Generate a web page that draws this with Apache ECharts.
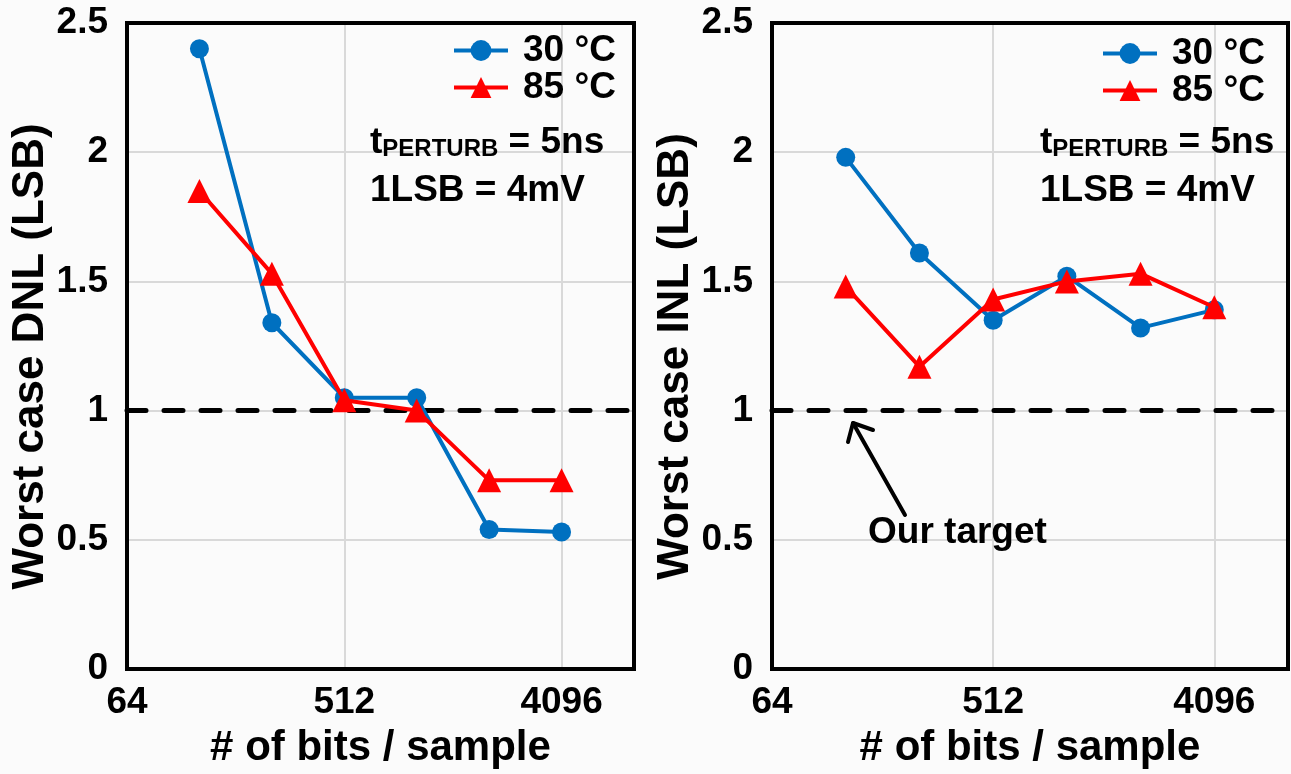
<!DOCTYPE html>
<html>
<head>
<meta charset="utf-8">
<script src="https://cdn.jsdelivr.net/npm/echarts@6/dist/echarts.min.js"></script>
<style>
html,body{margin:0;padding:0;background:#fbfbfb;}
#c{width:1291px;height:774px;}
</style>
</head>
<body>
<div id="c"></div>
<script>
// ---- data ----
const bits = [128, 256, 512, 1024, 2048, 4096];
const xTickLabels = [64, 512, 4096];
const dnl30 = [2.40, 1.34, 1.05, 1.05, 0.54, 0.53];
const dnl85 = [1.85, 1.53, 1.04, 1.00, 0.73, 0.73];
const inl30 = [1.98, 1.61, 1.35, 1.52, 1.32, 1.39];
const inl85 = [1.48, 1.17, 1.43, 1.50, 1.53, 1.40];
const seriesNames = ['30 °C', '85 °C'];
const targetLevel = 1;

const FONT = '"Liberation Sans", Arial, sans-serif';
const BLUE = '#0070C0', RED = '#FF0000';

const pts = arr => bits.map((b, i) => [Math.log2(b), arr[i]]);

function xAxis(gi) {
  return {
    gridIndex: gi, type: 'value', min: 6, max: 13, interval: 3,
    name: '# of bits / sample', nameLocation: 'middle', nameGap: 58,
    nameTextStyle: {fontFamily: FONT, fontWeight: 'bold', fontSize: 42, color: '#000'},
    axisLine: {show: false}, axisTick: {show: false},
    axisLabel: {
      fontFamily: FONT, fontWeight: 'bold', fontSize: 37, color: '#000', margin: 15,
      formatter: v => { const n = Math.pow(2, v); return xTickLabels.includes(n) ? String(n) : ''; }
    },
    splitLine: {show: true, lineStyle: {color: '#d9d9d9', width: 2}}
  };
}
function yAxis(gi, name) {
  return {
    gridIndex: gi, type: 'value', min: 0, max: 2.5, interval: 0.5,
    name: name, nameLocation: 'middle', nameGap: 70,
    nameTextStyle: {fontFamily: FONT, fontWeight: 'bold', fontSize: 44, color: '#000', padding: [0, 21, 0, 0]},
    axisLine: {show: false}, axisTick: {show: false},
    axisLabel: {fontFamily: FONT, fontWeight: 'bold', fontSize: 37, color: '#000', margin: 19},
    splitLine: {show: true, lineStyle: {color: '#d9d9d9', width: 2}}
  };
}
function series(gi, name, data, color, symbol, size, withTarget) {
  const s = {
    name: name, type: 'line', xAxisIndex: gi, yAxisIndex: gi, data: pts(data),
    symbol: symbol, symbolSize: size, color: color,
    lineStyle: {color: color, width: 4}, itemStyle: {color: color}, z: symbol === 'triangle' ? 4 : 3
  };
  if (withTarget) {
    s.markLine = {
      silent: true, symbol: ['none', 'none'], label: {show: false},
      lineStyle: {color: '#000', width: 5, type: [19, 18], cap: 'round'},
      data: [{yAxis: targetLevel}], z: 2
    };
  }
  return s;
}
function legend(left, top) {
  return {
    left: left, top: top, orient: 'vertical', itemGap: 0, itemWidth: 54, itemHeight: 26, padding: 0,
    data: seriesNames,
    lineStyle: {width: 4},
    textStyle: {fontFamily: FONT, fontWeight: 'bold', fontSize: 37, color: '#000', padding: [0, 0, 0, 10], lineHeight: 35}
  };
}
function note(x, y) {
  return [
    {type: 'text', left: x, top: y, z: 10, style: {
      text: '{a|t}{b|PERTURB}{a| = 5ns}',
      rich: {
        a: {fontFamily: FONT, fontWeight: 'bold', fontSize: 37, fill: '#000', verticalAlign: 'bottom', lineHeight: 40},
        b: {fontFamily: FONT, fontWeight: 'bold', fontSize: 24, fill: '#000', verticalAlign: 'bottom', lineHeight: 18}
      }
    }},
    {type: 'text', left: x, top: y + 48, z: 10, style: {
      text: '{a|1LSB = 4mV}',
      rich: {a: {fontFamily: FONT, fontWeight: 'bold', fontSize: 37, fill: '#000', lineHeight: 40}}
    }}
  ];
}

const chart = echarts.init(document.getElementById('c'), null, {renderer: 'canvas'});
chart.setOption({
  backgroundColor: '#fbfbfb',
  animation: false,
  grid: [
    {left: 127, top: 23, width: 507, height: 650, show: true, borderColor: '#000', borderWidth: 4, backgroundColor: 'transparent', z: 5},
    {left: 772, top: 23, width: 516, height: 650, show: true, borderColor: '#000', borderWidth: 4, backgroundColor: 'transparent', z: 5}
  ],
  xAxis: [xAxis(0), xAxis(1)],
  yAxis: [yAxis(0, 'Worst case DNL (LSB)'), yAxis(1, 'Worst case INL (LSB)')],
  legend: [legend(452, 32), legend(1101, 35)],
  series: [
    series(0, seriesNames[0], dnl30, BLUE, 'circle', 19, true),
    series(0, seriesNames[1], dnl85, RED, 'triangle', 24, false),
    series(1, seriesNames[0], inl30, BLUE, 'circle', 19, true),
    series(1, seriesNames[1], inl85, RED, 'triangle', 24, false)
  ],
  graphic: [
    ...note(370, 124),
    ...note(1040, 124),
    {type: 'polyline', z: 10, shape: {points: [[905, 515], [853, 423]]}, style: {stroke: '#000', lineWidth: 4, lineCap: 'round'}},
    {type: 'polyline', z: 10, shape: {points: [[848, 442], [853, 423], [873, 430]]}, style: {stroke: '#000', lineWidth: 4, lineCap: 'round', lineJoin: 'round', fill: null}},
    {type: 'text', left: 868, top: 514, z: 10, style: {text: 'Our target', fontFamily: FONT, fontWeight: 'bold', fontSize: 37, fill: '#000'}}
  ]
});
</script>
</body>
</html>
